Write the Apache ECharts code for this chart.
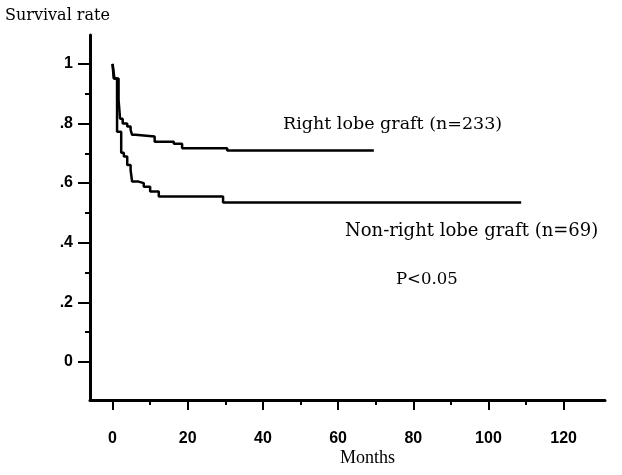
<!DOCTYPE html>
<html>
<head>
<meta charset="utf-8">
<script src="https://cdn.jsdelivr.net/npm/echarts@6/dist/echarts.min.js"></script>
<style>
html,body{margin:0;padding:0;background:#fff;}
#chart{width:622px;height:475px;}
</style>
</head>
<body>
<div id="chart"></div>
<script>
// Kaplan-Meier step points: [month, survival]
const rightLobe = [
  [0, 1], [0.5, 0.951], [1.6, 0.879], [2.0, 0.816], [2.7, 0.800], [3.9, 0.790],
  [4.8, 0.779], [5.2, 0.762], [6.1, 0.756], [11.2, 0.739], [16.3, 0.732],
  [18.5, 0.717], [30.5, 0.709], [69.5, 0.709]
];
const nonRightLobe = [
  [0, 1], [0.3, 0.951], [1.2, 0.772], [2.3, 0.702], [3.0, 0.689], [3.9, 0.661],
  [4.8, 0.644], [5.2, 0.605], [6.9, 0.600], [8.3, 0.588], [10, 0.572],
  [12.3, 0.555], [29.4, 0.535], [108.7, 0.535]
];
const xMajorTicks = [0, 20, 40, 60, 80, 100, 120];
const xMinorTicks = [10, 30, 50, 70, 90, 110];
const yMajorTicks = [0, 0.2, 0.4, 0.6, 0.8, 1];
const yMinorTicks = [0.1, 0.3, 0.5, 0.7, 0.9];
const yTickLabels = ['0', '.2', '.4', '.6', '.8', '1'];
const seriesNames = ['Right lobe graft (n=233)', 'Non-right lobe graft (n=69)'];
const annotation = 'P<0.05';
const xTitle = 'Months';
const yTitle = 'Survival rate';

const chart = echarts.init(document.getElementById('chart'), null, {renderer: 'canvas'});
const tickFont = {fontFamily: '"Liberation Sans Narrow", "Liberation Sans", Arial, sans-serif', fontWeight: 'bold', fontSize: 16, color: '#000'};
const serif = '"DejaVu Serif", "Liberation Serif", serif';
const timesLike = '"Liberation Serif", "Times New Roman", serif';

const X_MIN = -6, X_MAX = 131, Y_MIN = -0.128, Y_MAX = 1.097;

chart.setOption({
  animation: false,
  backgroundColor: '#fff',
  grid: {left: 90, right: 17, top: 35, bottom: 75, containLabel: false},
  xAxis: [
    {
      type: 'value', min: X_MIN, max: X_MAX, position: 'bottom',
      axisLine: {show: true, onZero: false, lineStyle: {color: '#000', width: 3}},
      axisTick: {show: true, length: 10, lineStyle: {color: '#000', width: 2}, customValues: xMajorTicks},
      axisLabel: {show: true, margin: 31, customValues: xMajorTicks, ...tickFont},
      splitLine: {show: false}
    },
    {
      type: 'value', min: X_MIN, max: X_MAX, position: 'bottom', offset: 0,
      axisLine: {show: false, onZero: false},
      axisTick: {show: true, length: 5, lineStyle: {color: '#000', width: 2}, customValues: xMinorTicks},
      axisLabel: {show: false},
      splitLine: {show: false}
    }
  ],
  yAxis: [
    {
      type: 'value', min: Y_MIN, max: Y_MAX, position: 'left',
      axisLine: {show: true, onZero: false, lineStyle: {color: '#000', width: 3}},
      axisTick: {show: true, length: 12, lineStyle: {color: '#000', width: 2}, customValues: yMajorTicks},
      axisLabel: {
        show: true, margin: 17, customValues: yMajorTicks, ...tickFont,
        formatter: function (v) {
          const i = yMajorTicks.findIndex(t => Math.abs(t - v) < 1e-6);
          return i >= 0 ? yTickLabels[i] : '';
        }
      },
      splitLine: {show: false}
    },
    {
      type: 'value', min: Y_MIN, max: Y_MAX, position: 'left', offset: 0,
      axisLine: {show: false, onZero: false},
      axisTick: {show: true, length: 5, lineStyle: {color: '#000', width: 2}, customValues: yMinorTicks},
      axisLabel: {show: false},
      splitLine: {show: false}
    }
  ],
  series: [
    {
      name: seriesNames[0], type: 'line', step: 'end', data: rightLobe,
      xAxisIndex: 0, yAxisIndex: 0,
      showSymbol: false, lineStyle: {color: '#000', width: 2.5}
    },
    {
      name: seriesNames[1], type: 'line', step: 'end', data: nonRightLobe,
      xAxisIndex: 0, yAxisIndex: 0,
      showSymbol: false, lineStyle: {color: '#000', width: 2.5}
    }
  ],
  graphic: [
    {type: 'text', left: 5, top: 8, style: {text: yTitle, font: '16px ' + serif, fill: '#000'}},
    {type: 'text', left: 340, top: 449, style: {text: xTitle, font: '18px ' + timesLike, fill: '#000'}},
    {type: 'text', left: 283, top: 115, style: {text: seriesNames[0], font: '17.5px ' + serif, fill: '#000'}},
    {type: 'text', left: 345, top: 222, style: {text: seriesNames[1], font: '18px ' + serif, fill: '#000'}},
    {type: 'text', left: 396, top: 271, style: {text: annotation, font: '16.5px ' + serif, fill: '#000'}}
  ]
});
</script>
</body>
</html>
